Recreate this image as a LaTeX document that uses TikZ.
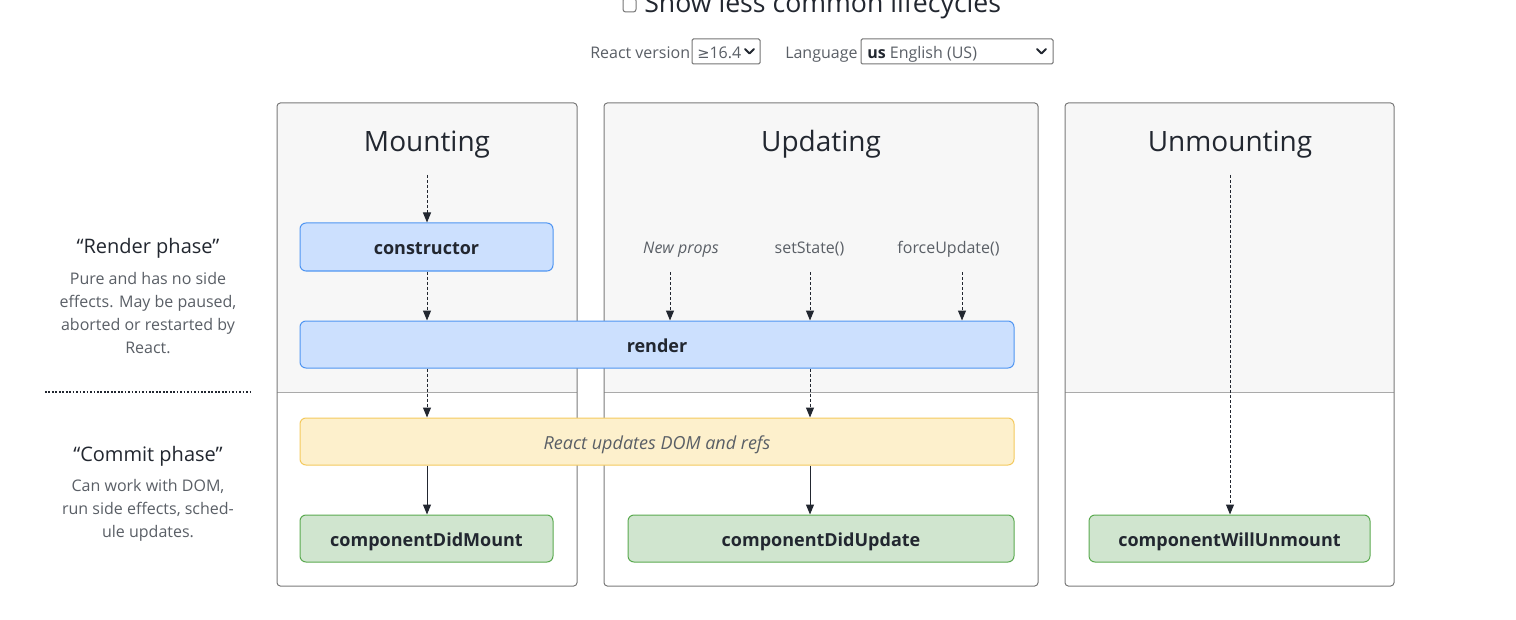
\documentclass[tikz,border=0pt]{standalone}
\usepackage{fontspec}
\setmainfont{Open Sans}
\newfontfamily\dv{DejaVu Sans}
\usetikzlibrary{arrows.meta}
\definecolor{panelfill}{HTML}{F7F7F7}
\definecolor{panelborder}{HTML}{7A7A7A}
\definecolor{divider}{HTML}{AAAAAA}
\definecolor{bluefill}{HTML}{CCE0FE}
\definecolor{blueline}{HTML}{4F95F2}
\definecolor{yellowfill}{HTML}{FDF0CC}
\definecolor{yellowline}{HTML}{F4CA5E}
\definecolor{greenfill}{HTML}{D0E5CF}
\definecolor{greenline}{HTML}{5BAA50}
\definecolor{ink}{HTML}{222730}
\definecolor{soft}{HTML}{5A5F66}
\definecolor{ctrl}{HTML}{767676}
\begin{document}
\begin{tikzpicture}[x=0.75pt,y=-0.75pt,
  panel/.style={draw=panelborder,line width=0.75pt,rounded corners=2.5pt},
  box/.style={rounded corners=4.5pt,line width=0.75pt,inner sep=0pt,text=ink,
    text height=14pt,text depth=2pt,
    font=\fontsize{13.5}{16}\selectfont\bfseries},
  bluebox/.style={box,draw=blueline,fill=bluefill},
  yellowbox/.style={box,draw=yellowline,fill=yellowfill,font=\fontsize{13.5}{16}\selectfont\itshape,text=soft},
  greenbox/.style={box,draw=greenline,fill=greenfill},
  title/.style={anchor=base,inner sep=0pt,font=\fontsize{21}{24}\selectfont,text=ink},
  trig/.style={anchor=base,inner sep=0pt,font=\fontsize{12}{14}\selectfont,text=soft},
  phase/.style={anchor=base,inner sep=0pt,font=\fontsize{15}{18}\selectfont,text=ink},
  desc/.style={font=\fontsize{12}{17.25}\selectfont,text=soft,align=center},
  dashar/.style={draw=ink,line width=0.75pt,dash pattern=on 2.25pt off 1.5pt,-{Triangle[length=7.5pt,width=6pt]}},
  solidar/.style={draw=ink,line width=0.75pt,-{Triangle[length=7.5pt,width=6pt]}},
  selbox/.style={draw=ctrl,line width=0.75pt,rounded corners=1pt},
  chev/.style={draw=ink,line width=1.4pt,line cap=round,line join=round},
  ctrltext/.style={anchor=base west,inner sep=0pt,font=\fontsize{12}{14}\selectfont,text=soft}
]
\useasboundingbox (0,0) rectangle (1516,620);
\fill[white] (0,0) rectangle (1516,620);

% ---- top controls
\draw[selbox,rounded corners=2pt] (623,-2) rectangle (636,12);
\node[anchor=base west,inner sep=0pt,font=\fontsize{20}{24}\selectfont,text=ink] (showless) at (644,13) {Show less common lifecycles};
\node[ctrltext] (rv) at (590,58.5) {React version};
\draw[selbox] (692,39) rectangle (760,64);
\node[ctrltext] (ver) at (697,58.5) {{\dv\fontsize{11}{14}\selectfont ≥}16.4};
\draw[chev] (745,49) -- (749.5,53.5) -- (754,49);
\node[ctrltext] (lang) at (785,58.5) {Language};
\draw[selbox] (861,39) rectangle (1053,64);
\node[ctrltext] (langval) at (867,58.5) {\textcolor{ink}{\bfseries us} English (US)};
\draw[chev] (1037,49) -- (1041.5,53.5) -- (1046,49);

% ---- panels
\foreach \xa/\xb in {277/577,604/1038,1065/1394}{
  \begin{scope}
    \clip[rounded corners=2.5pt] (\xa,103) rectangle (\xb,586);
    \fill[panelfill] (\xa,103) rectangle (\xb,392);
  \end{scope}
  \draw[divider,line width=0.75pt] (\xa,392) -- (\xb,392);
  \draw[panel] (\xa,103) rectangle (\xb,586);
}
\node[title] (tmount) at (427,152) {Mounting};
\node[title] (tupdate) at (821,152) {Updating};
\node[title] (tunmount) at (1230,152) {Unmounting};

% ---- left descriptions
\node[phase] (rph) at (148,253) {“Render phase”};
\node[desc] (rdesc) at (148,313.5) {Pure and has no side\\effects. May be paused,\\aborted or restarted by\\React.};
\draw[draw=ink,line width=1.3pt,dash pattern=on 1.3pt off 1.3pt] (45,392) -- (250,392);
\node[phase] (cph) at (148,461) {“Commit phase”};
\node[desc] (cdesc) at (148,510) {Can work with DOM,\\run side effects, sched-\\ule updates.};

% ---- nodes
\node[bluebox,minimum width=189.75pt,minimum height=36pt] (constructor) at (426.5,247) {constructor};
\node[bluebox,minimum width=535.5pt,minimum height=35.25pt] (render) at (657,344.5) {render};
\node[yellowbox,minimum width=535.5pt,minimum height=35.25pt] (dom) at (657,441.5) {React updates DOM and refs};
\node[greenbox,minimum width=189.75pt,minimum height=35.25pt] (didmount) at (426.5,538.5) {componentDidMount};
\node[greenbox,minimum width=289.5pt,minimum height=35.25pt] (didupdate) at (821,538.5) {componentDidUpdate};
\node[greenbox,minimum width=210.75pt,minimum height=35.25pt] (willunmount) at (1229.5,538.5) {componentWillUnmount};

\node[trig,font=\fontsize{12}{14}\selectfont\itshape] (newprops) at (681,253) {New props};
\node[trig] (setstate) at (809.5,253) {setState()};
\node[trig] (forceupdate) at (948.5,253) {forceUpdate()};

% ---- arrow start points
\coordinate (mstart) at (427,175);
\coordinate (ustart) at (1230,175);
\coordinate (npstart) at (670,272);
\coordinate (ssstart) at (810,272);
\coordinate (fustart) at (962,272);
\coordinate (ucol) at (810,400);

% ---- connectors
\draw[dashar] (mstart) -- (constructor.north -| mstart);
\draw[dashar] (constructor.south -| mstart) -- (render.north -| mstart);
\draw[dashar] (render.south -| mstart) -- (dom.north -| mstart);
\draw[solidar] (dom.south -| mstart) -- (didmount.north -| mstart);

\draw[dashar] (npstart) -- (render.north -| npstart);
\draw[dashar] (ssstart) -- (render.north -| ssstart);
\draw[dashar] (fustart) -- (render.north -| fustart);
\draw[dashar] (render.south -| ucol) -- (dom.north -| ucol);
\draw[solidar] (dom.south -| ucol) -- (didupdate.north -| ucol);

\draw[dashar] (ustart) -- (willunmount.north -| ustart);
\end{tikzpicture}
\end{document}
